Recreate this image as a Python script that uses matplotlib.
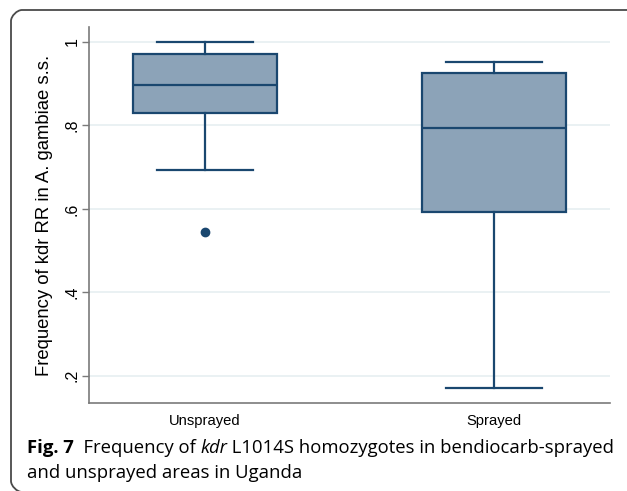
import matplotlib
matplotlib.use("Agg")
import matplotlib.pyplot as plt
from matplotlib.patches import PathPatch
from matplotlib.path import Path
from matplotlib.transforms import IdentityTransform

# box summary values
groups = ["Unsprayed", "Sprayed"]
whislo = [0.693, 0.170]
q1 = [0.831, 0.592]
med = [0.896, 0.795]
q3 = [0.971, 0.925]
whishi = [1.000, 0.951]
fliers = [[0.544], []]

yticks = [0.2, 0.4, 0.6, 0.8, 1.0]
ytick_labels = [".2", ".4", ".6", ".8", "1"]

NAVY = "#1A476F"
FILL = "#8CA3B8"
GRID = "#E6EFF1"
SPINE = "#7A7A7A"

W, H = 627, 491
fig = plt.figure(figsize=(W / 100, H / 100), dpi=100)
fig.patch.set_facecolor("white")

ax = fig.add_axes([89 / W, 1 - 403 / H, 521 / W, 376 / H])

stats = []
for i, g in enumerate(groups):
    stats.append({
        "label": g, "whislo": whislo[i], "q1": q1[i], "med": med[i],
        "q3": q3[i], "whishi": whishi[i], "fliers": fliers[i],
    })

ax.bxp(
    stats, positions=[1, 2], widths=0.5, patch_artist=True,
    boxprops={"facecolor": FILL, "edgecolor": NAVY, "linewidth": 1.6},
    medianprops={"color": NAVY, "linewidth": 1.6},
    whiskerprops={"color": NAVY, "linewidth": 1.6},
    capprops={"color": NAVY, "linewidth": 1.6},
    capwidths=0.333,
    flierprops={"marker": "o", "markerfacecolor": NAVY,
                "markeredgecolor": NAVY, "markersize": 6},
)

ax.set_xlim(1 - 0.4025, 2 + 0.4025)
ax.set_ylim(0.135, 1.036)
ax.set_yticks(yticks)
ax.set_yticklabels(ytick_labels, rotation=90, va="center",
                   fontsize=11.5, family="Liberation Sans")
ax.set_xticks([1, 2])
ax.set_xticklabels(groups, fontsize=10.6, family="Liberation Sans")
ax.tick_params(axis="x", length=0, pad=8)
ax.tick_params(axis="y", length=5, width=1, color=SPINE, pad=2)

ax.grid(axis="y", color=GRID, linewidth=1.2)
ax.set_axisbelow(True)
for side in ("top", "right"):
    ax.spines[side].set_visible(False)
for side in ("left", "bottom"):
    ax.spines[side].set_color(SPINE)
    ax.spines[side].set_linewidth(1.2)

ax.set_ylabel("Frequency of kdr RR in A. gambiae s.s.", fontsize=13.3,
              family="Liberation Sans", labelpad=8)

# rounded panel frame, open on the right (pixel coords, y up)
r = 11
x0, top, bot, xr = 11, H - 10, -1, W + 20
k = 0.45 * r
verts = [(xr, top), (x0 + r, top),
         (x0 + r - k, top), (x0, top - r + k), (x0, top - r),
         (x0, bot + r),
         (x0, bot + r - k), (x0 + r - k, bot), (x0 + r, bot),
         (xr, bot)]
codes = [Path.MOVETO, Path.LINETO,
         Path.CURVE4, Path.CURVE4, Path.CURVE4,
         Path.LINETO,
         Path.CURVE4, Path.CURVE4, Path.CURVE4,
         Path.LINETO]
frame = PathPatch(Path(verts, codes), transform=IdentityTransform(),
                  facecolor="none", edgecolor="#4A4A4A", linewidth=1.3)
fig.patches.append(frame)

# caption, pieced together so the bold / italic runs line up
fig.canvas.draw()
renderer = fig.canvas.get_renderer()
cap_font = "Open Sans"
cap_size = 13.3


def run(parts, x0, y):
    x = x0
    for txt, kw in parts:
        t = fig.text(x / W, 1 - y / H, txt, fontsize=cap_size,
                     family=cap_font, va="baseline", **kw)
        x += t.get_window_extent(renderer).width


run([("Fig. 7", {"weight": "bold"}),
     ("  Frequency of ", {}),
     ("kdr", {"style": "italic"}),
     (" L1014S homozygotes in bendiocarb-sprayed", {})], 27, 453)
run([("and unsprayed areas in Uganda", {})], 27, 478)

fig.savefig("out.png", dpi=100)
